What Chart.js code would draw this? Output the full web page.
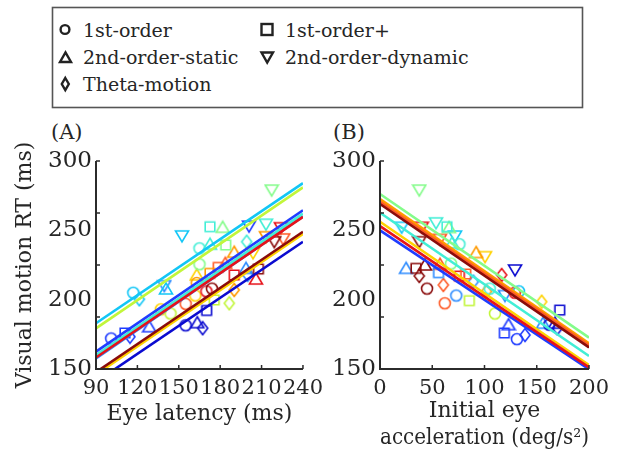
<!DOCTYPE html>
<html><head><meta charset="utf-8">
<script src="https://cdn.jsdelivr.net/npm/chart.js@4.4.1/dist/chart.umd.min.js"></script>
<style>
html,body{margin:0;padding:0;background:#fff;width:619px;height:454px;overflow:hidden;}
#wrapA{position:absolute;left:0;top:110px;width:330px;height:344px;}
#wrapB{position:absolute;left:330px;top:110px;width:289px;height:344px;}
#over{position:absolute;left:0;top:0;}
</style></head><body>
<svg id="over" width="619" height="454">
<rect x="52.5" y="7.5" width="530" height="100" fill="none" stroke="#555" stroke-width="1.6"/>
<g fill="none" stroke="#222" stroke-width="2.4" stroke-linejoin="miter">
<circle cx="65" cy="29.5" r="4.4"/>
<path d="M60 62 L65.5 52.5 L71 62 Z"/>
<path d="M65.3 78 L68.8 84 L65.3 90 L61.8 84 Z"/>
<rect x="261.5" y="24" width="11" height="11"/>
<path d="M261.5 52.5 L273 52.5 L267.2 62.5 Z"/>
</g>
<g font-family="DejaVu Serif" font-size="19" fill="#262626">
<text x="83" y="36.5">1st-order</text>
<text x="285" y="36.5">1st-order+</text>
<text x="83" y="64">2nd-order-static</text>
<text x="285" y="64">2nd-order-dynamic</text>
<text x="83" y="91">Theta-motion</text>
</g>
<g font-family="DejaVu Serif" font-size="21" fill="#262626">
<text x="51" y="139">(A)</text>
<text x="333" y="139">(B)</text>
</g>
</svg>
<div id="wrapA"><canvas id="cA" width="330" height="344"></canvas></div>
<div id="wrapB"><canvas id="cB" width="289" height="344"></canvas></div>
<script>
// ---------------- data ----------------
const subjectColors = ['#0b0bd0','#1f3cff','#2e8cff','#12c6f6','#42eed6','#84fc8a','#c2f63a','#ffd200','#ff9a00','#ff5a26','#e6121a','#8a0c0c'];
const conditions = ['1st-order','1st-order+','2nd-order-static','2nd-order-dynamic','Theta-motion'];

const xTicksA = [90,120,150,180,210,240];
const xTicksB = [0,50,100,150,200];
const yTickLabels = [150,200,250,300];
const yTickMarks = [150,187.5,225,262.5,300];

// Panel A: [eye latency (ms), visual motion RT (ms), subject]
const A_firstOrder = [[101,172,1],[117,205,3],[137,193,7],[144,190,6],[155,197,9],[162,203,7],[163,212,8],[155,181.5,0],[170,206,10],[174,208,11],[165,237,4],[165,225.5,5]];
const A_firstOrderPlus = [[111,176,1],[172.6,252.6,4],[184,239.4,5],[178.6,223.3,9],[172.6,219,8],[190.2,217.8,10],[207.7,222.1,11],[175.7,199.8,6],[170.2,192.2,0]];
const A_secondStatic = [[128.6,180.5,1],[140.7,207.7,3],[181.8,252.2,5],[172.6,240,4],[190.2,234.2,8],[163,217.8,7],[183.7,226.2,9],[198.7,222.6,2],[205.9,214.9,10],[163.4,183.4,0]];
const A_secondDynamic = [[217.3,279,5],[152.3,246,3],[139.5,210.1,2],[200.9,253,1],[213.2,254.4,4],[213.2,245.4,8],[224,251.9,10],[225.7,243.8,9],[219.2,241.8,11],[203.8,233.7,7]];
const A_theta = [[114.6,173.3,1],[121.4,200.3,3],[199.2,241.8,4],[186.6,197.4,6],[190.2,207,8],[167.3,179.4,0],[199.9,217.8,2]];

// Panel B: [initial eye acceleration (deg/s^2), visual motion RT (ms), subject]
const B_firstOrder = [[131,171.5,1],[133,206,3],[110,190,6],[62,197.4,9],[73,203,2],[45,208,11],[129,205,10],[162,182,0],[68,226,5],[76,240,4],[105,208,4]];
const B_firstOrderPlus = [[119,176,1],[172,192.5,0],[64,252.6,4],[85.5,199.3,6],[34.4,222.6,11],[76,217,10],[56,219.5,2],[82,218.5,9]];
const B_secondStatic = [[123,182,1],[156,183,2],[167.5,183,0],[25,222.6,2],[92,234,8],[57.4,225.5,9],[43,225,11],[69,241,4],[66,252,5]];
const B_secondDynamic = [[37.6,279,5],[20.7,252.2,3],[71.8,245.9,3],[53.6,255.4,4],[39.9,252.2,10],[57.4,243.5,9],[37.6,241.8,11],[100.5,231,7],[129.2,221.4,0],[119.6,203,2]];
const B_theta = [[138.8,174.5,1],[169.7,179.4,0],[154.7,198.5,7],[116.4,217.8,10],[60.6,210.6,9],[37.6,217.1,11],[102,206,8],[89.3,213,2]];

// Regression lines per subject: RT at axis start and end (null = not shown)
const A_lineAtStart = [140.7,162.5,157.7,183,160,null,179.3,146,null,null,158.3,147.7];   // x = 90
const A_lineAtEnd   = [241.8,264.5,260,284,262,null,281,247.4,null,null,259.7,249];       // x = 240
const B_lineAtStart = [null,250,null,null,262.7,276.2,null,256.2,272.5,270.5,253,269];      // x = 0
const B_lineAtEnd   = [null,149.8,null,null,159.4,172.6,null,152.9,168.5,167,151.2,165.6];  // x = 200

// ---------------- rendering ----------------
const FONT = "'DejaVu Serif', serif";
const TXT = '#262626';
const shapes = ['circle','square','up','down','diamond'];
const markerCache = {};
function marker(shape, color){
  const key = shape + color;
  if (markerCache[key]) return markerCache[key];
  const c = document.createElement('canvas');
  const S = 16; c.width = S; c.height = S;
  const g = c.getContext('2d');
  g.strokeStyle = color; g.lineWidth = 1.6; g.lineJoin = 'miter';
  const m = S/2;
  g.beginPath();
  if (shape === 'circle') g.arc(m, m, 5.5, 0, Math.PI*2);
  else if (shape === 'square') g.rect(m-4.8, m-4.8, 9.6, 9.6);
  else if (shape === 'up') { g.moveTo(m, m-6); g.lineTo(m+6.5, m+5); g.lineTo(m-6.5, m+5); g.closePath(); }
  else if (shape === 'down') { g.moveTo(m-6.5, m-5); g.lineTo(m+6.5, m-5); g.lineTo(m, m+6); g.closePath(); }
  else { g.moveTo(m, m-6.5); g.lineTo(m+5, m); g.lineTo(m, m+6.5); g.lineTo(m-5, m); g.closePath(); }
  g.stroke();
  markerCache[key] = c;
  return c;
}

function pointDatasets(groups){
  return groups.map((pts, ci) => ({
    label: conditions[ci],
    data: pts.map(p => ({x: p[0], y: p[1]})),
    pointStyle: pts.map(p => marker(shapes[ci], subjectColors[p[2]])),
    pointRadius: 7,
    showLine: false,
    clip: false,
    order: 50 + ci
  }));
}
function lineDatasets(starts, ends, x0, x1, orderMap){
  const out = [];
  starts.forEach((s, i) => {
    if (s === null) return;
    out.push({
      label: 'fit' + i,
      data: [{x: x0, y: s}, {x: x1, y: ends[i]}],
      showLine: true,
      borderColor: subjectColors[i],
      borderWidth: 2.6,
      pointRadius: 0,
      clip: 0,
      order: orderMap[i]
    });
  });
  return out;
}

function axesPlugin(xMarks){
  return {
    id: 'matlabAxes',
    afterDraw(chart){
      const {ctx, chartArea: a, scales: {x, y}} = chart;
      ctx.save();
      ctx.strokeStyle = '#2b2b2b';
      ctx.lineWidth = 2;
      ctx.beginPath();
      ctx.moveTo(a.left, a.top); ctx.lineTo(a.left, a.bottom); ctx.lineTo(a.right, a.bottom);
      ctx.stroke();
      ctx.lineWidth = 1.5;
      ctx.beginPath();
      yTickMarks.forEach(v => { const py = y.getPixelForValue(v); ctx.moveTo(a.left, py); ctx.lineTo(a.left + 4, py); });
      xMarks.forEach(v => { const px = x.getPixelForValue(v); ctx.moveTo(px, a.bottom); ctx.lineTo(px, a.bottom - 4); });
      ctx.stroke();
      ctx.restore();
    }
  };
}

function makeChart(id, datasets, xmin, xmax, xticks, xTitle, xTitlePad, yWidth, yTitle, padRight){
  const xTickFont = {family: FONT, size: 21};
  const yTickFont = {family: FONT, size: 23};
  const titleFont = {family: FONT, size: 22};
  return new Chart(document.getElementById(id), {
    type: 'scatter',
    data: {datasets},
    options: {
      responsive: false,
      animation: false,
      events: [],
      layout: {padding: {top: 51, right: padRight, left: 0, bottom: 0}},
      plugins: {legend: {display: false}, tooltip: {enabled: false}, title: {display: false}},
      scales: {
        x: {
          type: 'linear', min: xmin, max: xmax,
          afterBuildTicks: s => { s.ticks = xticks.map(v => ({value: v})); },
          afterFit: s => { s.height = 85; },
          grid: {display: false, drawTicks: false}, border: {display: false},
          ticks: {autoSkip: false, maxRotation: 0, minRotation: 0, padding: 7, color: TXT, font: xTickFont},
          title: {display: true, text: xTitle, color: TXT, font: titleFont, padding: {top: 0, bottom: xTitlePad}}
        },
        y: {
          type: 'linear', min: 150, max: 300,
          afterBuildTicks: s => { s.ticks = yTickLabels.map(v => ({value: v})); },
          afterFit: s => { s.width = yWidth; },
          grid: {display: false, drawTicks: false}, border: {display: false},
          ticks: {padding: 4, color: TXT, font: yTickFont},
          title: {display: !!yTitle, text: yTitle, color: TXT, font: titleFont, padding: {top: 12, bottom: 0}}
        }
      }
    },
    plugins: [axesPlugin(xticks)]
  });
}

// drawing order of fit lines (lower = on top)
const A_order = {0: 12, 1: 8, 2: 10, 3: 6, 4: 9, 6: 7, 7: 5, 10: 3, 11: 4};
const B_order = {1: 12, 4: 9, 5: 10, 7: 8, 8: 7, 9: 6, 10: 5, 11: 3};

makeChart('cA',
  [...lineDatasets(A_lineAtStart, A_lineAtEnd, 90, 240, A_order),
   ...pointDatasets([A_firstOrder, A_firstOrderPlus, A_secondStatic, A_secondDynamic, A_theta])],
  90, 240, xTicksA, 'Eye latency (ms)', 27, 96, 'Visual motion RT (ms)', 27);

makeChart('cB',
  [...lineDatasets(B_lineAtStart, B_lineAtEnd, 0, 200, B_order),
   ...pointDatasets([B_firstOrder, B_firstOrderPlus, B_secondStatic, B_secondDynamic, B_theta])],
  0, 200, xTicksB, ['Initial eye', 'acceleration (deg/s²)'], 3, 50, '', 30);
</script>
</body></html>
